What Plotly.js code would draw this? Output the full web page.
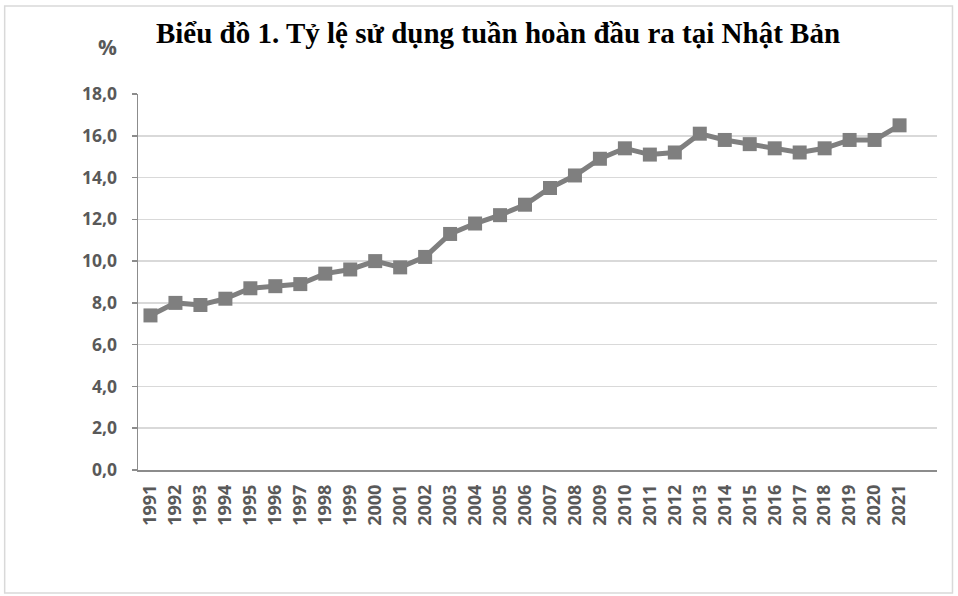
<!DOCTYPE html>
<html>
<head>
<meta charset="utf-8">
<script src="https://cdn.plot.ly/plotly-3.0.1.min.js"></script>
<style>
html,body{margin:0;padding:0;background:#fff;}
#chart{width:958px;height:596px;}
</style>
</head>
<body>
<div id="chart"></div>
<script>
const years = ["1991","1992","1993","1994","1995","1996","1997","1998","1999","2000","2001","2002","2003","2004","2005","2006","2007","2008","2009","2010","2011","2012","2013","2014","2015","2016","2017","2018","2019","2020","2021"];
const rates = [7.4,8.0,7.9,8.2,8.7,8.8,8.9,9.4,9.6,10.0,9.7,10.2,11.3,11.8,12.2,12.7,13.5,14.1,14.9,15.4,15.1,15.2,16.1,15.8,15.6,15.4,15.2,15.4,15.8,15.8,16.5];
const yTicks = [0,2,4,6,8,10,12,14,16,18];
const yTickText = ["0,0","2,0","4,0","6,0","8,0","10,0","12,0","14,0","16,0","18,0"];
const titleText = "Biểu đồ 1. Tỷ lệ sử dụng tuần hoàn đầu ra tại Nhật Bản";
const unitText = "%";

const gray = "#7f7f7f";
const labelColor = "#595959";
const sans = "'Open Sans', 'DejaVu Sans', sans-serif";

const trace = {
  x: years,
  y: rates,
  type: "scatter",
  mode: "lines+markers",
  line: {color: gray, width: 5},
  marker: {symbol: "square", size: 14, color: gray},
  hoverinfo: "x+y"
};

const layout = {
  width: 958,
  height: 596,
  paper_bgcolor: "#ffffff",
  plot_bgcolor: "#ffffff",
  margin: {l: 137.5, r: 20.5, t: 94, b: 126, pad: 0},
  showlegend: false,
  title: {
    text: "<b>" + titleText + "</b>",
    font: {family: "'Liberation Serif', 'Times New Roman', serif", size: 29, color: "#000"},
    x: 498/958, xref: "container", xanchor: "center",
    y: 1 - 23/596, yref: "container", yanchor: "top"
  },
  xaxis: {
    type: "category",
    range: [-0.5, 31.5],
    tickangle: -90,
    showgrid: false,
    showline: true,
    linecolor: "#8c8c8c",
    linewidth: 1.5,
    ticks: "",
    ticklabelstandoff: 6,
    tickfont: {family: sans, size: 18, color: labelColor, weight: "bold"},
    fixedrange: true
  },
  yaxis: {
    range: [0, 18],
    tickvals: yTicks,
    ticktext: yTickText,
    showgrid: true,
    gridcolor: "#d9d9d9",
    gridwidth: 1.5,
    zeroline: false,
    showline: true,
    linecolor: "#8c8c8c",
    linewidth: 1.5,
    ticks: "outside",
    ticklen: 5,
    tickcolor: "#8c8c8c",
    tickwidth: 1.5,
    ticklabelstandoff: 11,
    tickfont: {family: sans, size: 17.5, color: labelColor, weight: "bold"},
    fixedrange: true
  },
  annotations: [{
    text: "<b>" + unitText + "</b>",
    xref: "paper", yref: "paper",
    x: (107 - 137.5)/800, y: (470 - 47)/376,
    xanchor: "center", yanchor: "middle",
    showarrow: false,
    font: {family: sans, size: 21, color: labelColor}
  }],
  shapes: [{
    type: "rect", xref: "paper", yref: "paper",
    x0: (4 - 137.5)/800, x1: (953 - 137.5)/800,
    y0: (470 - 593)/376, y1: (470 - 6)/376,
    line: {color: "#d9d9d9", width: 1.5},
    layer: "below"
  }]
};

Plotly.newPlot("chart", [trace], layout, {displayModeBar: false, staticPlot: true});
</script>
</body>
</html>
